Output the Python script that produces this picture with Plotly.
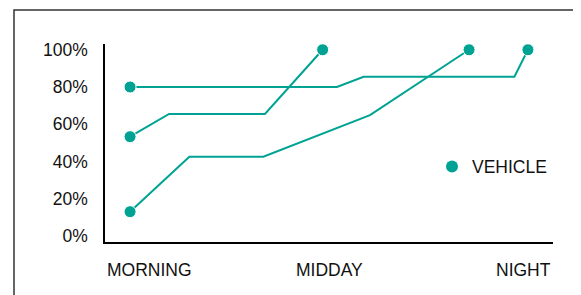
import plotly.graph_objects as go

# Data: progress through the day (0 = morning, 100 = night) vs share (%)
series_names = ["Vehicle A", "Vehicle B", "Vehicle C"]
x_a = [0, 52.0, 58.7, 96.6, 100]
y_a = [80, 80, 85.5, 85.5, 100]
x_b = [0, 9.8, 33.9, 48.4]
y_b = [53.3, 65.5, 65.5, 100]
x_c = [0, 14.9, 33.5, 60.3, 85.2]
y_c = [13.0, 42.5, 42.5, 64.9, 100]

y_ticks = [0, 20, 40, 60, 80, 100]
y_tick_labels = ["0%", "20%", "40%", "60%", "80%", "100%"]
x_labels = ["MORNING", "MIDDAY", "NIGHT"]
legend_name = "VEHICLE"

TEAL = "#00a393"
INK = "#111111"
FONT = "Liberation Sans, Arial, sans-serif"

fig = go.Figure()
for xs, ys, nm in zip([x_a, x_b, x_c], [y_a, y_b, y_c], series_names):
    n = len(xs)
    sizes = [12 if (i == 0 or i == n - 1) else 0 for i in range(n)]
    fig.add_trace(go.Scatter(
        x=xs, y=ys, name=nm, mode="lines+markers",
        line=dict(color=TEAL, width=2),
        marker=dict(color=TEAL, size=sizes, opacity=1),
        showlegend=False, hoverinfo="skip",
    ))

# legend entry (marker only)
fig.add_trace(go.Scatter(
    x=[None], y=[None], mode="markers", name=legend_name,
    marker=dict(color=TEAL, size=12), showlegend=True,
))

OFF = 8  # page body margin
W, H = 573, 287
L, R, T, B = 97, 28, 36, 53
pw, ph = W - L - R, H - T - B

def px_x(px):
    return (px - OFF - L) / pw

def px_y(py):
    return (H - B - (py - OFF)) / ph

fig.update_layout(
    width=W, height=H,
    margin=dict(l=L, r=R, t=T, b=B, pad=0),
    paper_bgcolor="white", plot_bgcolor="white",
    font=dict(family=FONT, size=17.5, color=INK),
    xaxis=dict(range=[-6.3, 106.3], showgrid=False, zeroline=False,
               showticklabels=False, ticks="", showline=True,
               linecolor="black", linewidth=1.5, fixedrange=True),
    yaxis=dict(range=[-3.3, 103.1], showgrid=False, zeroline=False,
               tickvals=y_ticks, ticktext=y_tick_labels, ticks="",
               showline=True, linecolor="black", linewidth=1.5,
               ticklabelstandoff=12, fixedrange=True),
    legend=dict(x=px_x(432), y=px_y(166.7), xanchor="left", yanchor="middle",
                bgcolor="rgba(0,0,0,0)", borderwidth=0,
                font=dict(family=FONT, size=17.5, color=INK)),
    showlegend=True,
)

anchors = ["left", "center", "right"]
xs_paper = [0, 0.5, 1]
for lab, xa, xp in zip(x_labels, anchors, xs_paper):
    fig.add_annotation(text=lab, xref="paper", yref="paper", x=xp, y=0,
                       xanchor=xa, yanchor="middle", yshift=-28,
                       showarrow=False, font=dict(family=FONT, size=17.5, color=INK))

# outer frame (top and left edges visible)
fig.add_shape(type="path", xref="paper", yref="paper",
              path=f"M {px_x(14)},{px_y(400)} L {px_x(14)},{px_y(10)} L {px_x(700)},{px_y(10)}",
              line=dict(color="#333333", width=1.5))

fig.write_html("out.html")
